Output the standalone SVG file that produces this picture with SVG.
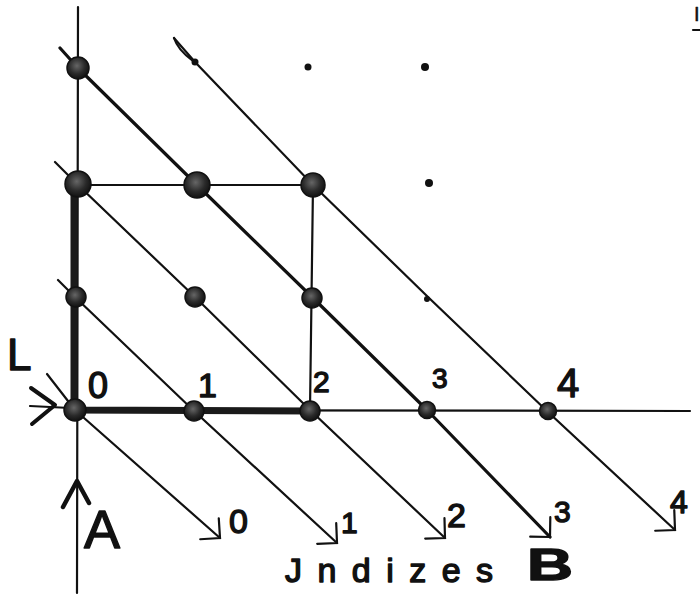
<svg xmlns="http://www.w3.org/2000/svg" width="700" height="596" viewBox="0 0 700 596">
<style>
  .ln{stroke:#111;fill:none;stroke-width:2.2;stroke-linecap:round;stroke-linejoin:round}
  .thick{stroke:#1a1a1a;fill:none;stroke-width:7;stroke-linecap:round}
  .node{fill:url(#g);stroke:#111;stroke-width:1.5}
  .dot{fill:#111}
  .t{font-family:"Liberation Sans","DejaVu Sans",sans-serif;fill:#111;stroke:#111;stroke-width:1.4;stroke-linejoin:round}
</style>
<defs>
  <radialGradient id="g" cx="0.45" cy="0.4" r="0.6">
    <stop offset="0" stop-color="#666"/>
    <stop offset="0.6" stop-color="#2a2a2a"/>
    <stop offset="1" stop-color="#111"/>
  </radialGradient>
  <marker id="ah" markerUnits="userSpaceOnUse" viewBox="-16 -16 18 32" refX="0" refY="0" markerWidth="18" markerHeight="32" orient="auto">
    <path d="M-14,-14 L0,0 L-14,14" fill="none" stroke="#111" stroke-width="2.2" stroke-linecap="round"/>
  </marker>
</defs>

<g id="connectors">
  <path class="ln" d="M78,7 L77,593"/>
  <path class="ln" d="M75,410 L690,411"/>
  <path class="ln" d="M78,185 L313,185"/>
  <path class="ln" d="M313,185 L310,410"/>
  <path class="thick" d="M74,186 L74,410 L310,411"/>
  <path class="ln" d="M47,374 L75,410 L220,538" marker-end="url(#ah)"/>
  <path class="ln" d="M58,280 L75,297 L193,410 L337,543" marker-end="url(#ah)"/>
  <path class="ln" d="M55,162 L78,185 L195,297 L310,410 L445,538" marker-end="url(#ah)"/>
  <path class="ln" style="stroke-width:3.2" d="M60,48 L78,68 L197,185 L312,297 L427,410 L550,537" marker-end="url(#ah)"/>
  <path class="ln" d="M174,38 L195,62 L313,185 L428,297 L548,412 L675,530" marker-end="url(#ah)"/>
  <path class="ln" d="M174,38 Q178,50 192,60"/>
  <path class="ln" d="M30,406 L70,408"/>
  <path class="ln" style="stroke-width:4" d="M31,388 L55,405 L32,424"/>
  <path class="ln" style="stroke-width:4.5" d="M63,507 L77,481 L89,503"/>
</g>

<g id="n-0-3"><circle class="node" cx="78" cy="68" r="11"/></g>
<g id="n-1-3"><circle class="dot" cx="195" cy="62" r="3.5"/></g>
<g id="n-2-3"><circle class="dot" cx="308" cy="67" r="3.5"/></g>
<g id="n-3-3"><circle class="dot" cx="425" cy="67" r="4"/></g>

<g id="n-0-2"><circle class="node" cx="78" cy="184" r="13"/></g>
<g id="n-1-2"><circle class="node" cx="197" cy="185" r="13"/></g>
<g id="n-2-2"><circle class="node" cx="313" cy="185" r="12"/></g>
<g id="n-3-2"><circle class="dot" cx="429" cy="183" r="4"/></g>

<g id="n-0-1"><circle class="node" cx="76" cy="297" r="10"/></g>
<g id="n-1-1"><circle class="node" cx="195" cy="297" r="10"/></g>
<g id="n-2-1"><circle class="node" cx="312" cy="298" r="10"/></g>
<g id="n-3-1"><circle class="dot" cx="427" cy="299" r="3"/></g>

<g id="n-0-0"><circle class="node" cx="75" cy="410" r="11"/></g>
<g id="n-1-0"><circle class="node" cx="194" cy="411" r="10"/></g>
<g id="n-2-0"><circle class="node" cx="310" cy="411" r="10"/></g>
<g id="n-3-0"><circle class="node" cx="427" cy="410" r="8.5"/></g>
<g id="n-4-0"><circle class="node" cx="548" cy="411" r="8.5"/></g>

<g id="labels">
  <text class="t" x="7" y="370" font-size="44">L</text>
  <text class="t" x="88" y="398" font-size="36">0</text>
  <text class="t" x="198" y="397" font-size="34">1</text>
  <text class="t" x="313" y="392" font-size="30">2</text>
  <text class="t" x="432" y="388" font-size="28">3</text>
  <text class="t" x="557" y="397" font-size="40">4</text>
  <text class="t" x="84" y="548" font-size="54">A</text>
  <text class="t" x="229" y="533" font-size="34">0</text>
  <text class="t" x="341" y="533" font-size="30">1</text>
  <text class="t" x="447" y="527" font-size="34">2</text>
  <text class="t" x="554" y="522" font-size="30">3</text>
  <text class="t" x="670" y="513" font-size="32">4</text>
  <text class="t" x="285" y="582" font-size="34" textLength="208" lengthAdjust="spacing">Jndizes</text>
  <text class="t" x="527" y="580" font-size="44" font-weight="bold" textLength="46" lengthAdjust="spacingAndGlyphs">B</text>
  <text class="t" x="694" y="21" font-size="20" style="stroke-width:0.5">I</text>
  <path class="ln" d="M693,30 L700,30"/>
</g>
</svg>
